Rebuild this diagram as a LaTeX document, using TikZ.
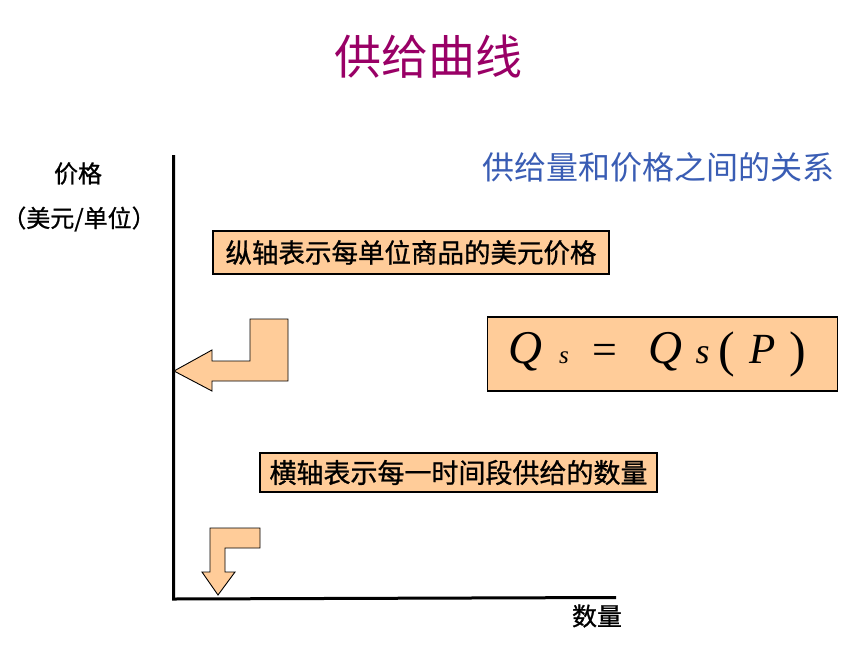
\documentclass[tikz,border=0pt]{standalone}
\usepackage{fontspec}
\newfontfamily\cjk{Noto Sans CJK SC}
\newfontfamily\cjkb[FakeBold=0.9]{Noto Sans CJK SC}
\newfontfamily\eqfont{Liberation Serif}
\definecolor{titlecol}{HTML}{990066}
\definecolor{bluecol}{HTML}{3A5DB4}
\definecolor{boxfill}{HTML}{FFCC99}
\tikzset{
  txt/.style={inner sep=0pt, text=black},
  cjk/.style 2 args={txt, font=\cjk\fontsize{#1}{#1}\selectfont, text=#2},
  cjkbold/.style={txt, font=\cjkb\fontsize{#1}{#1}\selectfont},
  infobox/.style={draw=black, line width=1.4pt, fill=boxfill, inner sep=0pt},
  eqglyph/.style={inner sep=0pt, anchor=base, font=\eqfont\itshape\fontsize{#1}{#1}\selectfont},
  axis/.style={line width=3pt, line cap=butt},
  bentarrow/.style={draw=black, line width=0.9pt, fill=boxfill, line join=miter}
}
\begin{document}
\begin{tikzpicture}[x=1pt,y=-1pt]
\useasboundingbox[fill=white] (0,0) rectangle (868,657);
% title
\node[cjk={47}{titlecol}] (title) at (428,57) {供给曲线};
\node[cjk={32}{bluecol}] (rel) at (658,167) {供给量和价格之间的关系};
% axes
\coordinate (ytop) at (173.5,155);
\coordinate (origin) at (173.5,597.5);
\coordinate (xend) at (616,597.5);
\draw[axis] (ytop) -- ([yshift=-1.5pt]origin) -- (xend);
% axis labels
\node[cjkbold=24] (ylab1) at (78,173.5) {价格};
\node[cjkbold=24] (ylab2) at (79,219) {（美元/单位）};
\node[cjkbold=25] (xlab) at (597,616) {数量};
% boxes
\node[infobox, minimum width=396pt, minimum height=43pt] (box1) at (411,252.5) {};
\node[cjkbold=26.5] (box1t) at (box1.center) {纵轴表示每单位商品的美元价格};
\node[infobox, minimum width=397pt, minimum height=39pt] (box3) at (458.5,472.5) {};
\node[cjkbold=27] (box3t) at (box3.center) {横轴表示每一时间段供给的数量};
\node[infobox, minimum width=350pt, minimum height=74pt] (eqbox) at (662.3,353.8) {};
% equation glyphs
\node[eqglyph=47] (q1) at (525.5,363) {Q};
\node[eqglyph=25] (s1) at (564,363) {s};
\node[eqglyph=44, font=\eqfont\fontsize{44}{44}\selectfont] (eq) at (605,364) {=};
\node[eqglyph=47] (q2) at (665,363) {Q};
\node[eqglyph=36] (s2) at (702.5,363) {s};
\node[eqglyph=50, font=\eqfont\fontsize{50}{50}\selectfont] (lp) at (726.5,366) {(};
\node[eqglyph=43] (p) at (763,363) {P};
\node[eqglyph=50, font=\eqfont\fontsize{50}{50}\selectfont] (rp) at (797.5,366) {)};
% bent arrows
\draw[bentarrow] (174,371) -- (212,350) -- (212,361) -- (250,361) -- (250,319)
  -- (288,319) -- (288,381) -- (212,381) -- (212,391) -- cycle;
\draw[bentarrow] (210,528) -- (260,528) -- (260,548) -- (225,548) -- (225,572)
  -- (235,572) -- (218,595) -- (202,572) -- (210,572) -- cycle;
\end{tikzpicture}
\end{document}
